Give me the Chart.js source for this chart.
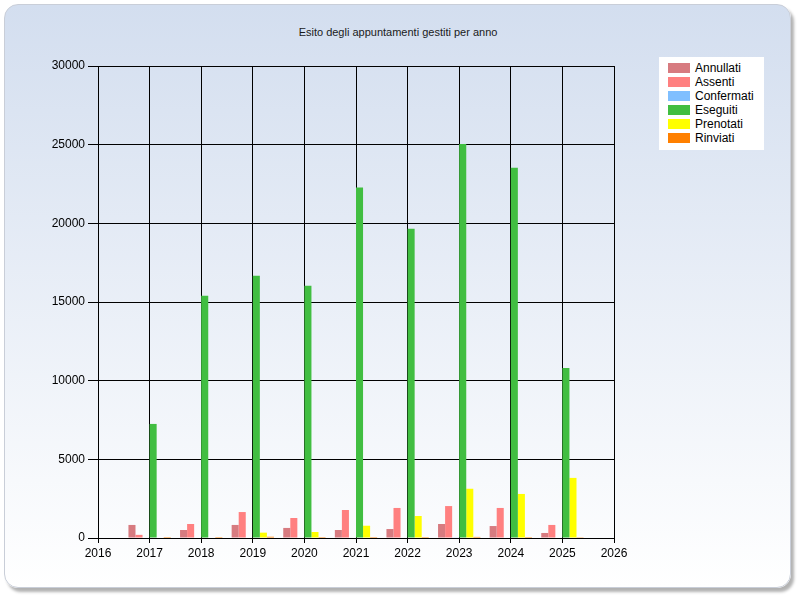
<!DOCTYPE html>
<html lang="it">
<head>
  <meta charset="UTF-8">
  <title>Esito degli appuntamenti gestiti per anno</title>
  <script src="https://cdn.jsdelivr.net/npm/chart.js"></script>
  <style>
    body {
      margin: 0;
      padding: 0;
      background: #fff;
      font-family: "Liberation Sans", Arial, sans-serif;
    }
    .frame {
      position: absolute;
      left: 4px;
      top: 4px;
      width: 785px;
      height: 582px;
      border: 1px solid #c9ced8;
      border-radius: 14px;
      background: linear-gradient(#d3deef, #ffffff);
      box-shadow: 3px 4px 3px rgba(0, 0, 0, 0.3);
    }
    .chart-container {
      position: absolute;
      left: 0;
      top: 0;
      width: 800px;
      height: 600px;
    }
    .chart-title {
      position: absolute;
      left: 0;
      top: 25px;
      width: 796px;
      text-align: center;
      font-size: 11px;
      line-height: 14px;
      color: #1a1a1a;
    }
    .legend {
      position: absolute;
      left: 659px;
      top: 57px;
      width: 105px;
      height: 93px;
      background: #fff;
      font-size: 12px;
      color: #000;
    }
    .legend-row {
      position: absolute;
      left: 9px;
      height: 14px;
      line-height: 14px;
      white-space: nowrap;
    }
    .legend-row span {
      display: inline-block;
      width: 22px;
      height: 10px;
      margin-right: 5px;
      vertical-align: -1px;
    }
  </style>
</head>
<body>
  <div class="frame"></div>
  <div class="chart-title">Esito degli appuntamenti gestiti per anno</div>
  <div class="chart-container">
    <canvas id="myChart" width="800" height="600"></canvas>
  </div>
  <div class="legend" id="legend"></div>

  <script>
    const years = [2017, 2018, 2019, 2020, 2021, 2022, 2023, 2024, 2025];
    const seriesNames = ['Annullati', 'Assenti', 'Confermati', 'Eseguiti', 'Prenotati', 'Rinviati'];
    const seriesColors = ['#d77b80', '#ff8080', '#80bfff', '#41be41', '#ffff00', '#ff8000'];

    const annullati  = [830, 510, 830, 640, 510, 570, 890, 760, 320];
    const assenti    = [200, 890, 1650, 1270, 1780, 1910, 2030, 1910, 830];
    const confermati = [0, 0, 30, 30, 30, 30, 40, 30, 30];
    const eseguiti   = [7250, 15400, 16670, 16040, 22270, 19660, 25040, 23540, 10810];
    const prenotati  = [0, 0, 340, 380, 780, 1400, 3130, 2800, 3820];
    const rinviati   = [60, 60, 80, 60, 60, 60, 70, 60, 50];

    const seriesValues = [annullati, assenti, confermati, eseguiti, prenotati, rinviati];

    const datasets = seriesNames.map((name, i) => ({
      label: name,
      data: years.map((y, j) => ({ x: y, y: seriesValues[i][j] })),
      backgroundColor: seriesColors[i],
      borderWidth: 0,
      categoryPercentage: 0.82,
      barPercentage: 1.0
    }));

    // legend built from the same arrays
    const legend = document.getElementById('legend');
    seriesNames.forEach((name, i) => {
      const row = document.createElement('div');
      row.className = 'legend-row';
      row.style.top = (4 + i * 14) + 'px';
      row.innerHTML = '<span style="background:' + seriesColors[i] + '"></span>' + name;
      legend.appendChild(row);
    });

    const ctx = document.getElementById('myChart').getContext('2d');
    const myChart = new Chart(ctx, {
      type: 'bar',
      data: { datasets: datasets },
      options: {
        responsive: false,
        animation: false,
        layout: {
          padding: { left: 38, right: 186, top: 66, bottom: 32 }
        },
        scales: {
          x: {
            type: 'linear',
            min: 2016,
            max: 2026,
            offset: false,
            grid: {
              color: '#000',
              lineWidth: 1,
              tickLength: 5,
              offset: false
            },
            border: { color: '#000', width: 1 },
            ticks: {
              stepSize: 1,
              padding: 3,
              color: '#000',
              font: { family: '"Liberation Sans", Arial, sans-serif', size: 12 },
              callback: function(value) {
                return String(value);
              }
            },
            afterFit: function(scale) {
              scale.height = 30;
            }
          },
          y: {
            min: 0,
            max: 30000,
            grid: {
              color: '#000',
              lineWidth: 1,
              tickLength: 10
            },
            border: { color: '#000', width: 1 },
            ticks: {
              stepSize: 5000,
              padding: 3,
              color: '#000',
              font: { family: '"Liberation Sans", Arial, sans-serif', size: 12 },
              callback: function(value) {
                return String(value);
              }
            },
            afterFit: function(scale) {
              scale.width = 60;
            }
          }
        },
        plugins: {
          legend: { display: false },
          tooltip: { enabled: false },
          title: { display: false }
        }
      }
    });
  </script>
</body>
</html>
